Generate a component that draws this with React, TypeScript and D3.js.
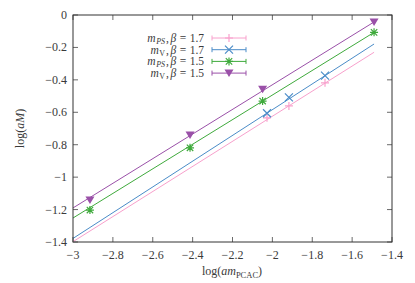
import React from "react";
import * as d3 from "d3";

const xTicks = [-3, -2.8, -2.6, -2.4, -2.2, -2, -1.8, -1.6, -1.4];
const yTicks = [0, -0.2, -0.4, -0.6, -0.8, -1, -1.2, -1.4];

// data points
const x17 = [-2.027, -1.917, -1.736];
const mps17 = [-0.634, -0.561, -0.418];
const mv17 = [-0.606, -0.508, -0.374];
const x15 = [-2.915, -2.413, -2.049, -1.49];
const mps15 = [-1.203, -0.819, -0.531, -0.107];
const mv15 = [-1.141, -0.74, -0.458, -0.043];

// fit line endpoints
const fitX = [-3, -1.49];
const fitMps17 = [-1.398, -0.23];
const fitMv17 = [-1.378, -0.179];
const fitMps15 = [-1.252, -0.107];
const fitMv15 = [-1.19, -0.043];

const W = 415, H = 283;
const L = 73, R = 392, T = 15, B = 242;
const xs = d3.scaleLinear().domain([-3, -1.4]).range([L, R]);
const ys = d3.scaleLinear().domain([-1.4, 0]).range([B, T]);
const font = "'Liberation Serif', 'DejaVu Serif', serif";
const FS = 12;
const txt = "#3a3a3a";

type Marker = "plus" | "cross" | "star" | "tri";

function Mark({ x, y, m, c }: { x: number; y: number; m: Marker; c: string }) {
  const s = 4;
  if (m === "plus")
    return <path d={`M${x - s},${y}H${x + s}M${x},${y - s}V${y + s}`} stroke={c} strokeWidth={1.2} />;
  if (m === "cross")
    return <path d={`M${x - s},${y - s}L${x + s},${y + s}M${x - s},${y + s}L${x + s},${y - s}`} stroke={c} strokeWidth={1.2} />;
  if (m === "star")
    return (
      <path
        d={`M${x - s},${y}H${x + s}M${x},${y - s}V${y + s}M${x - s * 0.8},${y - s * 0.8}L${x + s * 0.8},${y + s * 0.8}M${x - s * 0.8},${y + s * 0.8}L${x + s * 0.8},${y - s * 0.8}`}
        stroke={c}
        strokeWidth={1.2}
      />
    );
  return <path d={`M${x - 4.5},${y - 3.5}L${x + 4.5},${y - 3.5}L${x},${y + 4}Z`} fill={c} />;
}

const series = [
  { xs: x17, ys: mps17, fit: fitMps17, c: "#f8a0cc", m: "plus" as Marker, sub: "PS", subItalic: true, beta: "1.7" },
  { xs: x17, ys: mv17, fit: fitMv17, c: "#4a8cc8", m: "cross" as Marker, sub: "V", subItalic: false, beta: "1.7" },
  { xs: x15, ys: mps15, fit: fitMps15, c: "#3faa3c", m: "star" as Marker, sub: "PS", subItalic: true, beta: "1.5" },
  { xs: x15, ys: mv15, fit: fitMv15, c: "#9a50a8", m: "tri" as Marker, sub: "V", subItalic: false, beta: "1.5" },
];

const fmt = (t: number) => String(t).replace("-", "−");

export default function App() {
  return (
    <svg width={W} height={H} style={{ position: "absolute", left: 0, top: 0 }} fontFamily={font}>
      <rect width={W} height={H} fill="#fff" />
      {xTicks.map((t) => (
        <g key={"x" + t}>
          <line x1={xs(t)} x2={xs(t)} y1={B} y2={B - 5} stroke="#444" strokeWidth={0.8} />
          <line x1={xs(t)} x2={xs(t)} y1={T} y2={T + 5} stroke="#444" strokeWidth={0.8} />
          <text x={xs(t)} y={B + 17} textAnchor="middle" fontSize={FS} fill={txt}>
            {fmt(t)}
          </text>
        </g>
      ))}
      {yTicks.map((t) => (
        <g key={"y" + t}>
          <line x1={L} x2={L + 5} y1={ys(t)} y2={ys(t)} stroke="#444" strokeWidth={0.8} />
          <line x1={R} x2={R - 5} y1={ys(t)} y2={ys(t)} stroke="#444" strokeWidth={0.8} />
          <text x={L - 6} y={ys(t) + 4} textAnchor="end" fontSize={FS} fill={txt}>
            {fmt(t)}
          </text>
        </g>
      ))}
      {series.map((s, i) => (
        <line key={"f" + i} x1={xs(fitX[0])} y1={ys(s.fit[0])} x2={xs(fitX[1])} y2={ys(s.fit[1])} stroke={s.c} strokeWidth={1} />
      ))}
      {series.map((s, i) =>
        s.xs.map((xv, j) => <Mark key={"p" + i + "-" + j} x={xs(xv)} y={ys(s.ys[j])} m={s.m} c={s.c} />)
      )}
      <rect x={L} y={T} width={R - L} height={B - T} fill="none" stroke="#333" strokeWidth={1} />
      {series.map((s, i) => {
        const y = 38 + i * 11.7;
        return (
          <g key={"l" + i}>
            <text x={204} y={y + 4} textAnchor="end" fontSize={11.5} fill={txt}>
              <tspan fontStyle="italic">m</tspan>
              <tspan fontSize={8} dx={0.5} dy={2} fontStyle={s.subItalic ? "italic" : "normal"}>{s.sub}</tspan>
              <tspan dx={1} dy={-2}>,</tspan>
              <tspan dx={1.5} fontStyle="italic">β</tspan>
              <tspan dx={3.5}>=</tspan>
              <tspan dx={3.5}>{s.beta}</tspan>
            </text>
            <path d={`M212,${y}H246M212,${y - 2.5}V${y + 2.5}M246,${y - 2.5}V${y + 2.5}`} stroke={s.c} strokeWidth={1} />
            <Mark x={229} y={y} m={s.m} c={s.c} />
          </g>
        );
      })}
      <text x={232} y={275} textAnchor="middle" fontSize={FS} fill={txt}>
        log(<tspan fontStyle="italic">am</tspan>
        <tspan fontSize={8.5} dy={2.5}>PCAC</tspan>
        <tspan dy={-2.5}>)</tspan>
      </text>
      <text transform={`translate(24,${(T + B) / 2}) rotate(-90)`} textAnchor="middle" fontSize={FS} fill={txt}>
        log(<tspan fontStyle="italic">aM</tspan>)
      </text>
    </svg>
  );
}
